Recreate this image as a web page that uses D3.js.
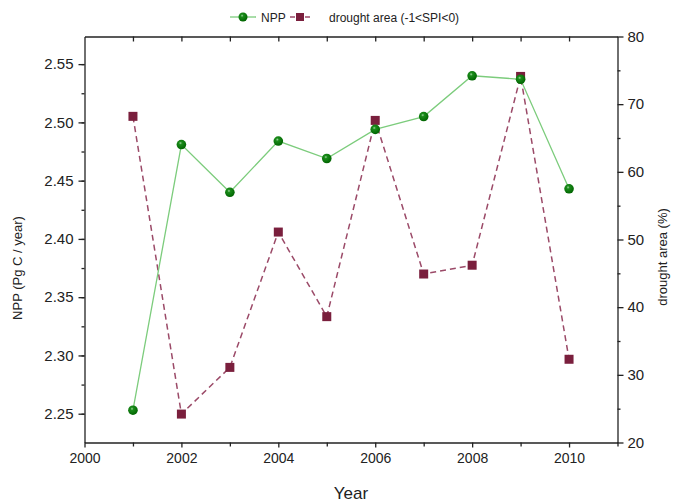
<!DOCTYPE html>
<html>
<head>
<meta charset="utf-8">
<script src="https://cdn.jsdelivr.net/npm/d3@7"></script>
<style>
  body { margin: 0; background: #fff; }
  svg text { font-family: "Liberation Sans", Arial, sans-serif; fill: #222; }
</style>
</head>
<body>
<div id="chart"></div>
<script>
// data
var years = [2001, 2002, 2003, 2004, 2005, 2006, 2007, 2008, 2009, 2010];
var npp = [2.253, 2.481, 2.440, 2.484, 2.469, 2.494, 2.505, 2.540, 2.537, 2.443];
var drought = [68.2, 24.2, 31.1, 51.1, 38.6, 67.6, 44.9, 46.2, 74.1, 32.3];
var xTicks = [2000, 2002, 2004, 2006, 2008, 2010];
var yLeftTicks = [2.25, 2.30, 2.35, 2.40, 2.45, 2.50, 2.55];
var yRightTicks = [20, 30, 40, 50, 60, 70, 80];

var W = 676, H = 503;
var pLeft = 84.5, pRight = 617.5, pTop = 36.5, pBottom = 442.5;

var svg = d3.select("#chart")
    .append("svg")
    .attr("width", W)
    .attr("height", H);

var x = d3.scaleLinear().domain([2000, 2011]).range([pLeft, pRight]);
var yL = d3.scaleLinear().domain([2.2253, 2.5737]).range([pBottom, pTop]);
var yR = d3.scaleLinear().domain([20, 80]).range([pBottom, pTop]);

// minor ticks
var allYears = d3.range(2000, 2012);
var leftMinor = d3.range(0, 14).map(function (i) { return 2.225 + i * 0.025; })
    .filter(function (v) { return v > 2.2253 && v < 2.5737; });
var rightMinor = d3.range(25, 80, 10);

// bottom axis
svg.append("g")
    .attr("transform", "translate(0," + pBottom + ")")
    .call(d3.axisBottom(x).tickValues(allYears.filter(function (d) { return d % 2 == 1; }))
        .tickSize(4).tickFormat(""))
    .call(function (g) { g.select(".domain").remove(); });
var xAxis = svg.append("g")
    .attr("transform", "translate(0," + pBottom + ")")
    .call(d3.axisBottom(x).tickValues(xTicks).tickSize(5).tickSizeOuter(0).tickFormat(d3.format("d")).tickPadding(6));
xAxis.selectAll("text").style("font-size", "14px");

// top axis (ticks inward, no labels)
svg.append("g")
    .attr("transform", "translate(0," + pTop + ")")
    .call(d3.axisTop(x).tickValues(allYears.slice(1, 11)).tickSize(-5).tickSizeOuter(0).tickFormat(""));

// left axis
svg.append("g")
    .attr("transform", "translate(" + pLeft + ",0)")
    .call(d3.axisLeft(yL).tickValues(leftMinor).tickSize(3).tickFormat(""))
    .call(function (g) { g.select(".domain").remove(); });
var yAxisL = svg.append("g")
    .attr("transform", "translate(" + pLeft + ",0)")
    .call(d3.axisLeft(yL).tickValues(yLeftTicks).tickSize(6).tickSizeOuter(0).tickFormat(d3.format(".2f")).tickPadding(5));
yAxisL.selectAll("text").style("font-size", "15px");

// right axis
svg.append("g")
    .attr("transform", "translate(" + pRight + ",0)")
    .call(d3.axisRight(yR).tickValues(rightMinor).tickSize(3).tickFormat(""))
    .call(function (g) { g.select(".domain").remove(); });
var yAxisR = svg.append("g")
    .attr("transform", "translate(" + pRight + ",0)")
    .call(d3.axisRight(yR).tickValues(yRightTicks).tickSize(6).tickSizeOuter(0).tickPadding(4));
yAxisR.selectAll("text").style("font-size", "15px");

svg.selectAll(".domain, .tick line").attr("stroke", "#222").attr("stroke-width", 1.3);

// axis titles
svg.append("text")
    .attr("x", (pLeft + pRight) / 2)
    .attr("y", 499)
    .attr("text-anchor", "middle")
    .style("font-size", "17px")
    .text("Year");
svg.append("text")
    .attr("transform", "translate(22,268) rotate(-90)")
    .attr("text-anchor", "middle")
    .style("font-size", "13px")
    .text("NPP (Pg C / year)");
svg.append("text")
    .attr("transform", "translate(667,257) rotate(-90)")
    .attr("text-anchor", "middle")
    .style("font-size", "13px")
    .text("drought area (%)");

// gradient for the ball markers
var defs = svg.append("defs");
var grad = defs.append("radialGradient")
    .attr("id", "ball")
    .attr("cx", "40%").attr("cy", "35%").attr("r", "65%");
grad.append("stop").attr("offset", "0%").attr("stop-color", "#9fd49f");
grad.append("stop").attr("offset", "25%").attr("stop-color", "#1a8c1a");
grad.append("stop").attr("offset", "100%").attr("stop-color", "#006400");

// drought series
var lineR = d3.line()
    .x(function (d, i) { return x(years[i]); })
    .y(function (d) { return yR(d); });
svg.append("path")
    .datum(drought)
    .attr("fill", "none")
    .attr("stroke", "#9b4a68")
    .attr("stroke-width", 1.5)
    .attr("stroke-dasharray", "6,4")
    .attr("d", lineR);

// NPP series
var lineL = d3.line()
    .x(function (d, i) { return x(years[i]); })
    .y(function (d) { return yL(d); });
svg.append("path")
    .datum(npp)
    .attr("fill", "none")
    .attr("stroke", "#7ccc7c")
    .attr("stroke-width", 1.3)
    .attr("d", lineL);

svg.selectAll(".sq")
    .data(drought)
    .enter()
    .append("rect")
    .attr("class", "sq")
    .attr("x", function (d, i) { return x(years[i]) - 4.5; })
    .attr("y", function (d) { return yR(d) - 4.5; })
    .attr("width", 9)
    .attr("height", 9)
    .attr("fill", "#7a1f3d");

svg.selectAll(".ball")
    .data(npp)
    .enter()
    .append("circle")
    .attr("class", "ball")
    .attr("cx", function (d, i) { return x(years[i]); })
    .attr("cy", function (d) { return yL(d); })
    .attr("r", 4.8)
    .attr("fill", "url(#ball)");

// legend
var lg = svg.append("g").attr("transform", "translate(0,17)");
lg.append("line").attr("x1", 230).attr("x2", 256).attr("y1", 0).attr("y2", 0)
    .attr("stroke", "#7ccc7c").attr("stroke-width", 1.3);
lg.append("circle").attr("cx", 243).attr("cy", 0).attr("r", 4.5).attr("fill", "url(#ball)");
lg.append("text").attr("x", 261).attr("y", 4.5).style("font-size", "12px").text("NPP");
lg.append("line").attr("x1", 290).attr("x2", 295).attr("y1", 0).attr("y2", 0)
    .attr("stroke", "#9b4a68").attr("stroke-width", 1.5);
lg.append("line").attr("x1", 305).attr("x2", 310).attr("y1", 0).attr("y2", 0)
    .attr("stroke", "#9b4a68").attr("stroke-width", 1.5);
lg.append("rect").attr("x", 296).attr("y", -4).attr("width", 8).attr("height", 8).attr("fill", "#7a1f3d");
lg.append("text").attr("x", 329).attr("y", 4.5).style("font-size", "12px").text("drought area (-1<SPI<0)");
</script>
</body>
</html>
